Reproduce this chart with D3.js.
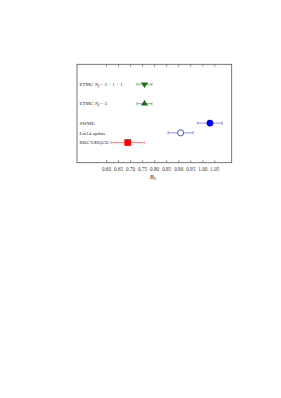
<!DOCTYPE html>
<html><head><meta charset="utf-8">
<script src="https://cdn.jsdelivr.net/npm/d3@7"></script>
<style>body{margin:0;background:#fff;}</style>
</head><body>
<svg id="c" width="281" height="398"></svg>
<script>
const labels = ["ETMC Nf = 2 + 1 + 1", "ETMC Nf = 3", "SWME", "Lat14 update", "RBC/UKQCD"];
const values = [0.760, 0.760, 1.032, 0.910, 0.690];
const errors = [0.031, 0.031, 0.051, 0.052, 0.069];
const markers = ["triangle-down", "triangle-up", "circle", "circle-open", "square"];
const colors = ["#1b6e1b", "#1b6e1b", "#0000ff", "#2222ee", "#ff0000"];
const rowPos = [0, 1, 2, 2.5, 3];
const tickVals = [0.60,0.65,0.70,0.75,0.80,0.85,0.90,0.95,1.00,1.05];

const svg = d3.select("#c");
const L=77, R=231.7, T=64.3, B=162.7;
const x = d3.scaleLinear().domain([0.4795,1.1223]).range([L,R]);
const y = d3.scaleLinear().domain([0,3]).range([84.3,142.5]);

svg.append("rect").attr("x",L).attr("y",T).attr("width",R-L).attr("height",B-T)
  .attr("fill","none").attr("stroke","#555").attr("stroke-width",0.8);

const ff = "'Liberation Serif','DejaVu Serif',serif";
const axB = d3.axisBottom(x).tickValues(tickVals).tickSize(-2.5).tickFormat(d3.format(".2f"));
const gB = svg.append("g").attr("transform",`translate(0,${B})`).call(axB);
gB.select(".domain").remove();
gB.selectAll("line").attr("stroke","#555").attr("stroke-width",0.6);
gB.selectAll("text").attr("font-family",ff).attr("font-size",5.2).attr("fill","#333").attr("dy","0").attr("y",8.5);
const axT = d3.axisTop(x).tickValues(tickVals).tickSize(-2.5).tickFormat("");
const gT = svg.append("g").attr("transform",`translate(0,${T})`).call(axT);
gT.select(".domain").remove();
gT.selectAll("line").attr("stroke","#555").attr("stroke-width",0.6);

const xl = svg.append("text").attr("x",x(0.795)).attr("y",178.5).attr("text-anchor","middle")
  .attr("font-family",ff).attr("font-style","italic").attr("font-size",6.5).style("fill","#333");
xl.append("tspan").style("fill","#333").text("B");
xl.append("tspan").style("fill","#333").attr("font-size",4.5).attr("dy",1.3).attr("font-style","normal").text("6");

// labels
labels.forEach((lab,i)=>{
  const t = svg.append("text").attr("x",79.5).attr("y",y(rowPos[i])+1.7)
    .attr("font-family",ff).attr("font-size",5).attr("fill","#333");
  if (lab.startsWith("ETMC")) {
    const rest = lab.split("Nf")[1];
    t.append("tspan").text("ETMC ");
    t.append("tspan").attr("font-style","italic").text("N");
    t.append("tspan").attr("font-style","italic").attr("font-size",4).attr("dy",0.8).text("f");
    t.append("tspan").attr("dy",-0.8).text(rest);
  } else t.text(lab);
});

// error bars
const errCols = ["#6aa86a","#6aa86a","#7777ff","#7777ee","#ff7777"];
values.forEach((v,i)=>{
  const yy = y(rowPos[i]);
  const g = svg.append("g").attr("stroke",errCols[i]).attr("stroke-width",0.8);
  g.append("line").attr("x1",x(v-errors[i])).attr("x2",x(v+errors[i])).attr("y1",yy).attr("y2",yy);
  [v-errors[i], v+errors[i]].forEach(e=>g.append("line").attr("x1",x(e)).attr("x2",x(e)).attr("y1",yy-1.5).attr("y2",yy+1.5));
  const m = markers[i];
  if (m==="triangle-down" || m==="triangle-up") {
    const s = m==="triangle-up" ? -1 : 1;
    const h=3.3, w=3.6;
    svg.append("path").attr("d",`M${x(v)-w},${yy-s*h*0.55}L${x(v)+w},${yy-s*h*0.55}L${x(v)},${yy+s*h*1.1}Z`)
      .attr("fill",colors[i]);
  } else if (m==="circle") {
    svg.append("circle").attr("cx",x(v)).attr("cy",yy).attr("r",3.4).attr("fill",colors[i]);
  } else if (m==="circle-open") {
    svg.append("circle").attr("cx",x(v)).attr("cy",yy).attr("r",3.1).attr("fill","#fff").attr("stroke",colors[i]).attr("stroke-width",0.8);
  } else {
    svg.append("rect").attr("x",x(v)-3.3).attr("y",yy-3.3).attr("width",6.6).attr("height",6.6).attr("fill",colors[i]);
  }
});
</script>
</body></html>
